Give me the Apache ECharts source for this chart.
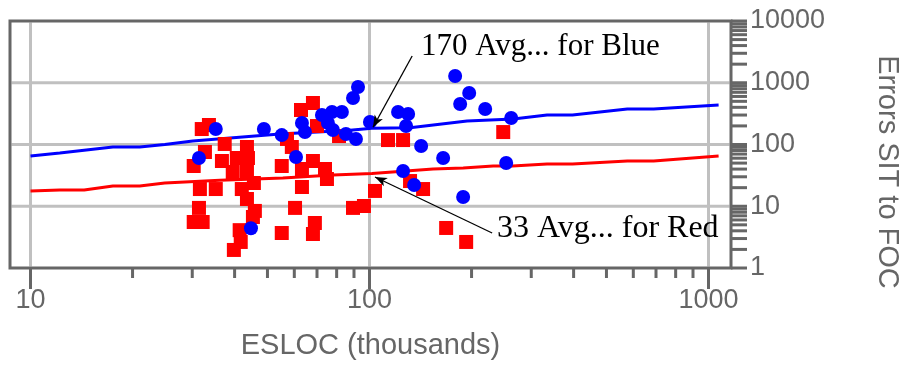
<!DOCTYPE html>
<html>
<head>
<meta charset="utf-8">
<script src="https://cdn.jsdelivr.net/npm/echarts@6/dist/echarts.min.js"></script>
<style>
html,body{margin:0;padding:0;background:#fff;}
#chart{width:906px;height:366px;}
</style>
</head>
<body>
<div id="chart"></div>
<script>
// ---- data ----
const blueX = [31.4, 35.2, 44.7, 48.8, 55.1, 60.7, 63.2, 64.5, 72.4, 77.5, 82.9, 75.4, 78.0, 85.2, 91.2, 89.4, 92.5, 100.3, 121.4, 130, 128.2, 142, 164.9, 125.6, 135.4, 178.9, 196.8, 185.1, 219.4, 261.8, 188.9, 253];
const blueY = [60.4, 178, 4.4, 178, 142, 62.8, 223, 159, 300, 336, 336, 223, 172, 148, 123, 566, 853, 231, 336, 312, 199, 94.6, 60.4, 37.2, 22.1, 1286, 682, 453, 376, 269, 14.1, 50.1];

const redX = [32.0, 33.6, 32.7, 30.3, 37.4, 43.5, 36.7, 40.6, 43.8, 39.5, 43.5, 31.6, 35.2, 42.0, 45.6, 43.5, 31.4, 30.3, 32.2, 45.9, 45.3, 41.4, 41.7, 39.8, 55.1, 55.1, 60.3, 63.2, 68.1, 63.2, 73.9, 74.9, 69.0, 68.1, 62.8, 68.1, 70.0, 57.1, 59.0, 81.3, 89.4, 96.3, 103.8, 113.4, 125.6, 248, 131.7, 143.9, 168.3, 192.8];
const redY = [178, 207, 75.6, 44.9, 102, 91.2, 54.0, 60.4, 60.4, 35.9, 35.9, 19.0, 19.0, 19.0, 23.8, 13.1, 9.4, 5.56, 5.56, 8.4, 6.7, 4.1, 2.64, 1.96, 44.9, 3.69, 9.4, 20.5, 54.0, 40.1, 40.1, 27.6, 5.36, 3.55, 362, 470, 199, 123, 91.2, 137, 9.4, 10.1, 17.7, 118, 118, 159, 25.6, 19.0, 4.45, 2.64];

const blueLineX = [10, 12.2, 17.5, 21, 24.9, 30.1, 54.4, 87.6, 101.6, 131.7, 194, 265.5, 334, 397, 576, 689, 1071];
const blueLineY = [65, 73, 91, 91, 100, 114, 148, 170, 183, 187, 240, 258, 300, 300, 376, 376, 436];

const redLineX = [10, 12.2, 14.4, 17.5, 21, 24.9, 36.2, 55.5, 78, 101.7, 154, 189, 231.6, 264, 334, 397, 576, 689, 1071];
const redLineY = [17.7, 18.4, 18.4, 21.3, 21.3, 23.8, 26.3, 28.7, 32, 33.8, 40, 41.5, 45, 45, 48.5, 48.5, 54, 54, 65];

const xTickMajor = [10, 100, 1000];
const xTickMinor = [20, 30, 40, 50, 60, 70, 80, 90, 200, 300, 400, 500, 600, 700, 800, 900];
const yTickMajor = [1, 10, 100, 1000, 10000];
const yTickMinor = [2, 3, 4, 5, 6, 7, 8, 9, 20, 30, 40, 50, 60, 70, 80, 90, 200, 300, 400, 500, 600, 700, 800, 900, 2000, 3000, 4000, 5000, 6000, 7000, 8000, 9000];
const xGridVals = [10, 100, 1000];
const yGridVals = [10, 100, 1000];

const X_MIN = 8.7, X_MAX = 1165, Y_MIN = 1, Y_MAX = 10000;

// annotations: [fromX, fromY, toX, toY]
const blueArrow = [133.6, 2710, 102.4, 190];
const redArrow = [230, 3.69, 103.8, 29.8];
const blueNote = '170 Avg... for Blue';
const redNote = '33 Avg... for Red';

const xTitle = 'ESLOC (thousands)';
const yTitle = 'Errors SIT to FOC';

// ---- chart ----
const GRAY = '#666';
const zip = (a, b) => a.map((v, i) => [v, b[i]]);

const chart = echarts.init(document.getElementById('chart'), null, {renderer: 'canvas'});

function tickSeries(vals, axis, len) {
  return {
    type: 'custom',
    clip: false,
    silent: true,
    z: 5,
    data: vals.map(v => axis === 'x' ? [v, Y_MIN] : [X_MAX, v]),
    renderItem: function (params, api) {
      const p = api.coord([api.value(0), api.value(1)]);
      if (axis === 'x') {
        return {type: 'line', shape: {x1: p[0], y1: p[1], x2: p[0], y2: p[1] + len},
          style: {stroke: GRAY, lineWidth: 3}};
      }
      return {type: 'line', shape: {x1: p[0], y1: p[1], x2: p[0] + len, y2: p[1]},
        style: {stroke: GRAY, lineWidth: 3}};
    }
  };
}

function gridSeries(vals, axis) {
  return {
    type: 'custom',
    clip: false,
    silent: true,
    z: 1,
    data: vals.map(v => axis === 'x' ? [v, Y_MIN] : [X_MIN, v]),
    renderItem: function (params, api) {
      let a, b;
      if (axis === 'x') {
        a = api.coord([api.value(0), Y_MIN]);
        b = api.coord([api.value(0), Y_MAX]);
        return {type: 'line', shape: {x1: a[0], y1: a[1] - 1.5, x2: b[0], y2: b[1] + 1.5},
          style: {stroke: '#c0c0c0', lineWidth: 3}};
      }
      a = api.coord([X_MIN, api.value(1)]);
      b = api.coord([X_MAX, api.value(1)]);
      return {type: 'line', shape: {x1: a[0] + 1.5, y1: a[1], x2: b[0] - 1.5, y2: b[1]},
        style: {stroke: '#c0c0c0', lineWidth: 3}};
    }
  };
}

const isDecade = v => Math.abs(Math.log10(v) - Math.round(Math.log10(v))) < 1e-6;

const option = {
  animation: false,
  backgroundColor: '#fff',
  grid: {left: 10, right: 175, top: 21, bottom: 98, show: true, borderColor: GRAY, borderWidth: 3, backgroundColor: 'transparent', z: 3},
  xAxis: {
    type: 'log', min: X_MIN, max: X_MAX, logBase: 10,
    axisLine: {show: false}, axisTick: {show: false}, splitLine: {show: false},
    axisLabel: {
      margin: 19, color: GRAY, fontSize: 27, fontFamily: 'Liberation Sans, Arial, sans-serif',
      showMinLabel: true, showMaxLabel: true,
      formatter: v => isDecade(v) ? String(Math.round(v)) : ''
    },
    name: xTitle, nameLocation: 'middle', nameGap: 63,
    nameTextStyle: {color: GRAY, fontSize: 29, fontFamily: 'Liberation Sans, Arial, sans-serif'}
  },
  yAxis: {
    type: 'log', min: Y_MIN, max: Y_MAX, logBase: 10, position: 'right',
    axisLine: {show: false}, axisTick: {show: false}, splitLine: {show: false},
    axisLabel: {
      margin: 19, color: GRAY, fontSize: 27, fontFamily: 'Liberation Sans, Arial, sans-serif',
      formatter: v => isDecade(v) ? String(Math.round(v)) : ''
    }
  },
  graphic: [
    {type: 'text', x: 887, y: 172, rotation: -Math.PI / 2, silent: true,
      style: {text: yTitle, fill: GRAY, fontSize: 29, fontFamily: 'Liberation Sans, Arial, sans-serif',
        textAlign: 'center', textVerticalAlign: 'middle', align: 'center', verticalAlign: 'middle'}},
    {type: 'text', x: 421, y: 47, silent: true, z: 10,
      style: {text: blueNote, fill: '#000', fontSize: 31, fontFamily: 'Liberation Serif, Times New Roman, serif',
        textAlign: 'left', textVerticalAlign: 'middle', align: 'left', verticalAlign: 'middle'}},
    {type: 'text', x: 497, y: 229, silent: true, z: 10,
      style: {text: redNote, fill: '#000', fontSize: 32, fontFamily: 'Liberation Serif, Times New Roman, serif',
        textAlign: 'left', textVerticalAlign: 'middle', align: 'left', verticalAlign: 'middle'}}
  ],
  series: [
    gridSeries(xGridVals, 'x'),
    gridSeries(yGridVals, 'y'),
    tickSeries(xTickMajor, 'x', 21),
    tickSeries(xTickMinor, 'x', 10),
    tickSeries(yTickMajor, 'y', 16),
    tickSeries(yTickMinor, 'y', 16),
    {
      type: 'line', data: zip(blueLineX, blueLineY), symbol: 'none', z: 2,
      lineStyle: {color: '#0000ff', width: 3},
      markLine: {
        silent: true, symbol: ['none', 'arrow'], symbolSize: [7, 12], animation: false,
        label: {show: false},
        lineStyle: {color: '#000', width: 1.3, type: 'solid'},
        data: [
          [{coord: [blueArrow[0], blueArrow[1]]}, {coord: [blueArrow[2], blueArrow[3]]}],
          [{coord: [redArrow[0], redArrow[1]]}, {coord: [redArrow[2], redArrow[3]]}]
        ]
      }
    },
    {
      type: 'line', data: zip(redLineX, redLineY), symbol: 'none', z: 2,
      lineStyle: {color: '#ff0000', width: 3}
    },
    {
      type: 'scatter', data: zip(redX, redY), symbol: 'rect', symbolSize: 14, z: 3,
      itemStyle: {color: '#ff0000', opacity: 1}
    },
    {
      type: 'scatter', data: zip(blueX, blueY), symbol: 'circle', symbolSize: 14, z: 4,
      itemStyle: {color: '#0000ff', opacity: 1}
    }
  ]
};
chart.setOption(option);
</script>
</body>
</html>
